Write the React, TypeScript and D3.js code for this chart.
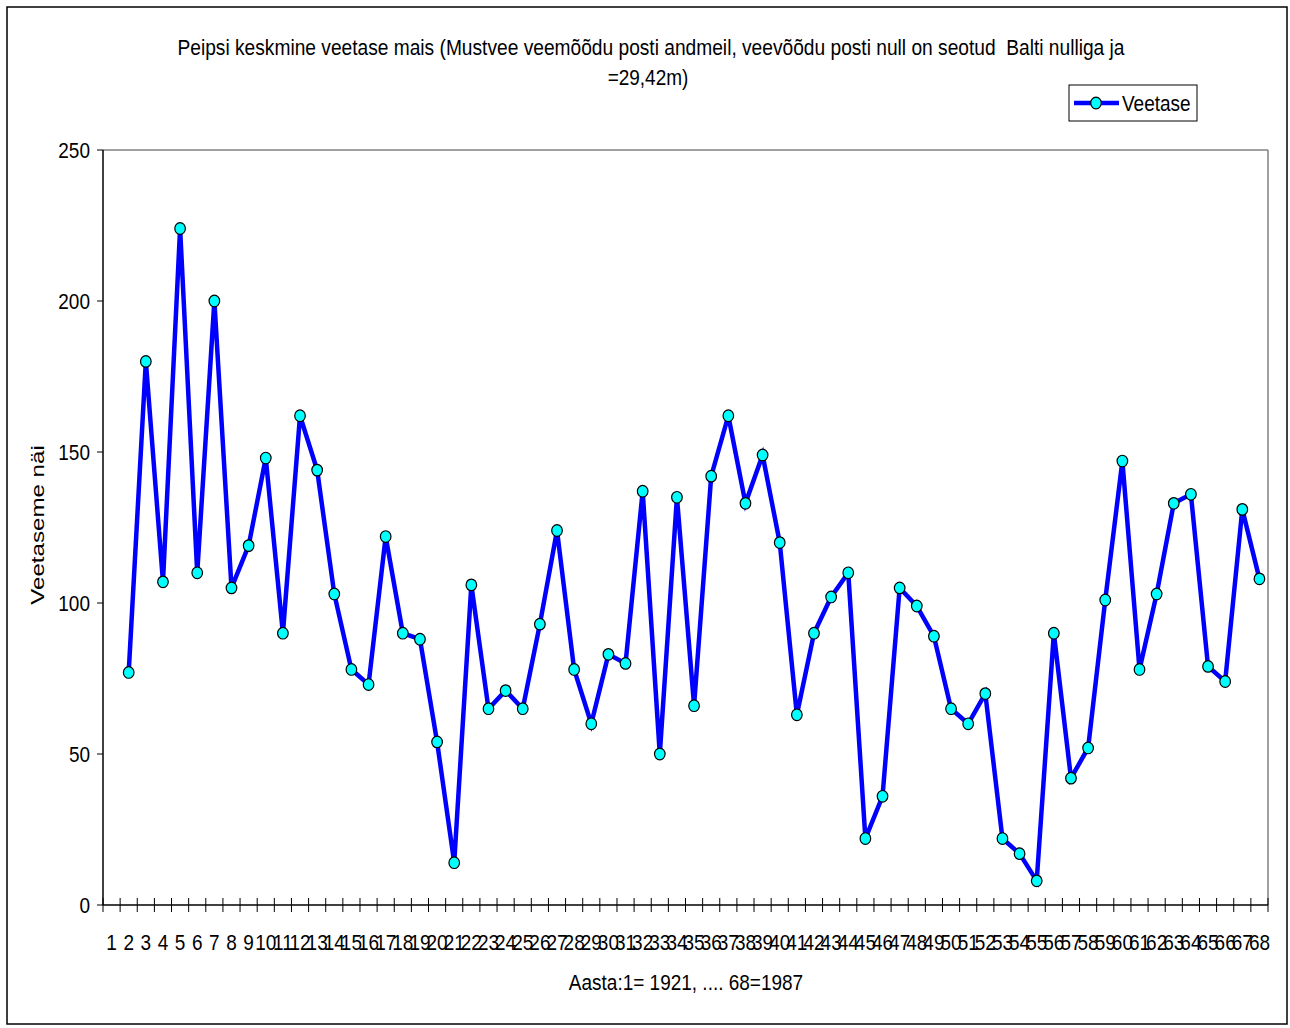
import React from "react";
import * as d3 from "d3";

const years: string[] = [
  "1","2","3","4","5","6","7","8","9","10","11","12","13","14","15","16","17",
  "18","19","20","21","22","23","24","25","26","27","28","29","30","31","32","33","34",
  "35","36","37","38","39","40","41","42","43","44","45","46","47","48","49","50","51",
  "52","53","54","55","56","57","58","59","60","61","62","63","64","65","66","67","68",
];

const veetase: (number | null)[] = [
  null, 77, 180, 107, 224, 110, 200, 105, 119, 148, 90,
  162, 144, 103, 78, 73, 122, 90, 88, 54, 14,
  106, 65, 71, 65, 93, 124, 78, 60, 83, 80,
  137, 50, 135, 66, 142, 162, 133, 149, 120, 63,
  90, 102, 110, 22, 36, 105, 99, 89, 65, 60,
  70, 22, 17, 8, 90, 42, 52, 101, 147, 78,
  103, 133, 136, 79, 74, 131, 108,
];

const yTicks: number[] = [0, 50, 100, 150, 200, 250];

const titleLine1 =
  "Peipsi keskmine veetase mais (Mustvee veemõõdu posti andmeil, veevõõdu posti null on seotud  Balti nulliga ja";
const titleLine2 = "=29,42m)";
const seriesName = "Veetase";
const xTitle = "Aasta:1= 1921, .... 68=1987";
const yTitle = "Veetaseme näi";

const W = 1290;
const H = 1028;
const plot = { left: 103, right: 1268, top: 150, bottom: 905 };
const FONT = "'Liberation Sans', Arial, sans-serif";
const SY = 1.2;

function SText(props: {
  x: number;
  y: number;
  anchor?: string;
  size?: number;
  rotate?: number;
  textLength?: number;
  children: React.ReactNode;
}) {
  const { x, y, anchor = "start", size = 19, rotate = 0, textLength } = props;
  const tr = rotate
    ? `translate(${x},${y}) rotate(${rotate}) scale(${SY},1)`
    : `translate(${x},${y}) scale(1,${SY})`;
  return (
    <text
      transform={tr}
      textAnchor={anchor}
      fontFamily={FONT}
      fontSize={size}
      fill="#000"
      textLength={textLength}
      lengthAdjust={textLength ? "spacingAndGlyphs" : undefined}
      style={{ whiteSpace: "pre" }}
    >
      {props.children}
    </text>
  );
}

export default function App() {
  const x = d3.scaleBand<string>().domain(years).range([plot.left, plot.right]).padding(0);
  const y = d3.scaleLinear().domain([0, 250]).range([plot.bottom, plot.top]);
  const cx = (c: string) => (x(c) as number) + x.bandwidth() / 2;

  const pts = years
    .map((c, i) => ({ c, v: veetase[i] }))
    .filter((d) => d.v !== null) as { c: string; v: number }[];

  const line = d3
    .line<{ c: string; v: number }>()
    .x((d) => cx(d.c))
    .y((d) => y(d.v));

  const boundaries = years.map((c) => x(c) as number).concat([plot.right]);

  return (
    <svg
      width={W}
      height={H}
      style={{ position: "absolute", left: 0, top: 0, display: "block", background: "#fff" }}
    >
      <rect x={7} y={7} width={1280} height={1017} fill="#fff" stroke="#000" strokeWidth={1.5} />

      {/* title */}
      <SText x={651} y={55} anchor="middle" textLength={947}>
        {titleLine1}
      </SText>
      <SText x={648} y={85} anchor="middle">
        {titleLine2}
      </SText>

      {/* plot area frame */}
      <line x1={plot.left} x2={plot.right} y1={plot.top} y2={plot.top} stroke="#808080" strokeWidth={1.5} />
      <line x1={plot.right} x2={plot.right} y1={plot.top} y2={plot.bottom} stroke="#808080" strokeWidth={1.5} />

      {/* y axis */}
      <line x1={plot.left} x2={plot.left} y1={plot.top} y2={plot.bottom} stroke="#000" strokeWidth={1.5} />
      {yTicks.map((t) => (
        <g key={t}>
          <line x1={plot.left - 6} x2={plot.left} y1={y(t)} y2={y(t)} stroke="#000" strokeWidth={1} />
          <SText x={90} y={y(t) + 8} anchor="end">
            {String(t)}
          </SText>
        </g>
      ))}

      {/* x axis */}
      <line x1={plot.left} x2={plot.right} y1={plot.bottom} y2={plot.bottom} stroke="#000" strokeWidth={1.5} />
      {boundaries.map((bx, i) => (
        <line key={i} x1={bx} x2={bx} y1={plot.bottom - 7} y2={plot.bottom + 7} stroke="#000" strokeWidth={1} />
      ))}
      {years.map((c) => (
        <SText key={c} x={cx(c)} y={950} anchor="middle">
          {c}
        </SText>
      ))}

      {/* axis titles */}
      <SText x={686} y={990} anchor="middle">
        {xTitle}
      </SText>
      <SText x={44} y={525} anchor="middle" rotate={-90} textLength={133}>
        {yTitle}
      </SText>

      {/* series */}
      <path d={line(pts) || ""} fill="none" stroke="#0000FF" strokeWidth={4.5} strokeLinejoin="miter" />
      {pts.map((d) => (
        <ellipse key={d.c} cx={cx(d.c)} cy={y(d.v)} rx={5.3} ry={5.8} fill="#00FFFF" stroke="#000" strokeWidth={1.2} />
      ))}

      {/* legend */}
      <rect x={1069} y={85} width={128} height={36} fill="#fff" stroke="#000" strokeWidth={1} />
      <line x1={1074} x2={1119} y1={103} y2={103} stroke="#0000FF" strokeWidth={4.5} />
      <ellipse cx={1096} cy={103} rx={5.3} ry={5.8} fill="#00FFFF" stroke="#000" strokeWidth={1.2} />
      <SText x={1122} y={111}>{seriesName}</SText>
    </svg>
  );
}
